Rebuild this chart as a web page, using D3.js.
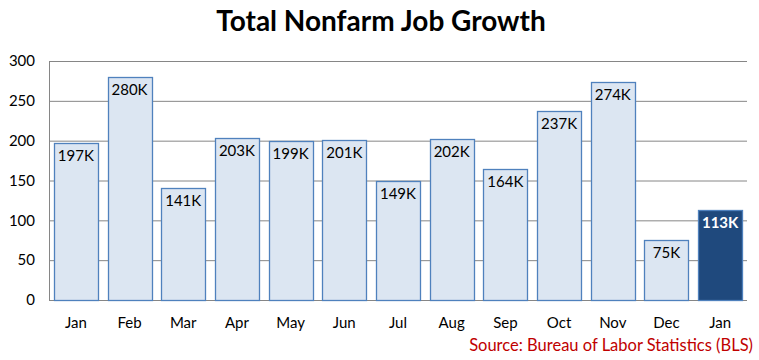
<!DOCTYPE html>
<html><head><meta charset="utf-8">
<script src="https://cdn.jsdelivr.net/npm/d3@7"></script>
<style>body{margin:0;background:#fff}svg{display:block}text{font-family:Lato,"Open Sans",sans-serif}</style>
</head><body><svg id="c" width="759" height="360"></svg>
<script>
const months = ["Jan","Feb","Mar","Apr","May","Jun","Jul","Aug","Sep","Oct","Nov","Dec","Jan"];
const values = [197,280,141,203,199,201,149,202,164,237,274,75,113];
const labels = ["197K","280K","141K","203K","199K","201K","149K","202K","164K","237K","274K","75K","113K"];
const yTicks = [0,50,100,150,200,250,300];

const svg = d3.select("#c");
const L = 49, R = 747, T = 61, B = 300;
const x = d3.scaleBand().domain(d3.range(months.length)).range([L, R]).paddingInner(0.18).paddingOuter(0.09);
const y = d3.scaleLinear().domain([0, 300]).range([B, T]);

svg.append("text").attr("x", 381).attr("y", 31).attr("text-anchor", "middle")
  .attr("font-size", 28).attr("font-weight", "bold").attr("fill", "#000").text("Total Nonfarm Job Growth");

const grid = svg.append("g").attr("transform", `translate(${L},0)`)
  .call(d3.axisLeft(y).tickValues(yTicks).tickSize(-(R - L)).tickPadding(14).tickFormat(d3.format("d")));
grid.select(".domain").remove();
grid.selectAll(".tick line").attr("stroke", "#868686").attr("stroke-width", 1);
grid.selectAll(".tick text").attr("font-size", 15).attr("fill", "#000");

svg.append("line").attr("x1", L + 0.5).attr("x2", L + 0.5).attr("y1", T).attr("y2", B).attr("stroke", "#868686");
svg.append("line").attr("x1", L).attr("x2", R).attr("y1", B + 0.5).attr("y2", B + 0.5).attr("stroke", "#868686");

const last = months.length - 1;
svg.selectAll("rect.bar").data(values).join("rect").attr("class", "bar")
  .attr("x", (d, i) => Math.round(x(i)) + 0.5).attr("width", Math.round(x.bandwidth()))
  .attr("y", d => Math.round(y(d)) + 0.5).attr("height", d => B - Math.round(y(d)))
  .attr("fill", (d, i) => i === last ? "#1f497d" : "#dce6f2")
  .attr("stroke", "#4f81bd").attr("stroke-width", 1.3);

svg.selectAll("text.lbl").data(values).join("text").attr("class", "lbl")
  .attr("x", (d, i) => x(i) + x.bandwidth() / 2).attr("y", d => y(d) + 18)
  .attr("text-anchor", "middle").attr("font-size", 15)
  .attr("font-weight", (d, i) => i === last ? "bold" : "normal")
  .attr("fill", (d, i) => i === last ? "#fff" : "#000")
  .text((d, i) => labels[i]);

svg.selectAll("text.xl").data(months).join("text").attr("class", "xl")
  .attr("x", (d, i) => x(i) + x.bandwidth() / 2).attr("y", 328)
  .attr("text-anchor", "middle").attr("font-size", 15).attr("fill", "#000").text(d => d);

svg.append("text").attr("x", 753).attr("y", 351).attr("text-anchor", "end")
  .attr("font-size", 16.5).attr("fill", "#c00000").attr("xml:space", "preserve")
  .text("Source: Bureau of Labor Statistics (BLS)");
</script></body></html>
